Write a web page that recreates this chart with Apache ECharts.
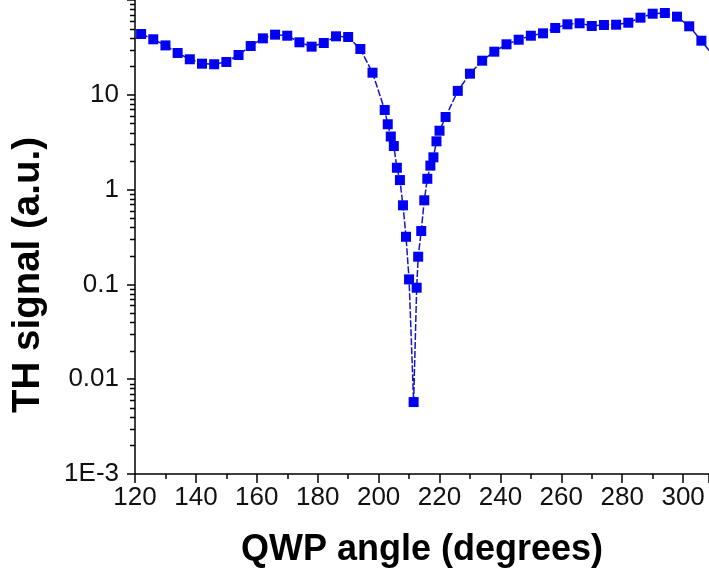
<!DOCTYPE html>
<html>
<head>
<meta charset="utf-8">
<script src="https://cdn.jsdelivr.net/npm/echarts@6/dist/echarts.min.js"></script>
<style>
html, body { margin: 0; padding: 0; background: #fff; }
#chart { width: 709px; height: 576px; }
</style>
</head>
<body>
<div id="chart"></div>
<script>
// QWP angle (degrees)
const angles = [
  122, 126, 130, 134, 138, 142, 146, 150, 154, 158, 162, 166, 170, 174, 178, 182, 186, 190, 194, 198,
  202, 203, 204, 205, 206, 207, 208, 209, 210, 211.5, 212.5, 213, 214, 215, 216, 217, 218, 219, 220,
  222, 226, 230, 234, 238, 242, 246, 250, 254, 258, 262, 266, 270, 274, 278, 282, 286, 290, 294, 298,
  302, 306, 310
]
// TH signal (a.u.)
const signal = [
  43.8, 38.5, 33.2, 27.6, 23.7, 21.3, 21.0, 22.2, 26.3, 32.7, 39.4, 43.1, 42.0, 35.8, 32.2, 35.2, 41.4, 40.7, 30.4, 17.1,
  6.92, 4.89, 3.63, 2.88, 1.70, 1.26, 0.683, 0.318, 0.113, 0.00574, 0.0923, 0.196, 0.366, 0.771, 1.30, 1.79, 2.19, 3.23, 4.18,
  5.83, 11.0, 16.7, 22.9, 28.5, 34.1, 38.1, 42.0, 44.5, 50.7, 55.4, 56.8, 53.2, 54.5, 54.9, 57.6, 65.1, 71.7, 72.9, 66.7,
  52.8, 37.2, 25.6
]

const yTickValues = [0.001, 0.01, 0.1, 1, 10]
const yTickText = ['1E-3', '0.01', '0.1', '1', '10']

const font = 'Liberation Sans, Arial, sans-serif'

let myChart = echarts.init(document.getElementById('chart'))

myChart.setOption({
  animation: false,
  grid: { left: 135, right: 0, top: 0, bottom: 102, containLabel: false },
  xAxis: {
    type: 'value',
    min: 120,
    max: 308.5,
    interval: 20,
    name: 'QWP angle (degrees)',
    nameLocation: 'middle',
    nameGap: 58,
    nameTextStyle: { fontFamily: font, fontSize: 36, fontWeight: 'bold', color: '#000' },
    axisLine: { lineStyle: { color: '#000', width: 1.5 } },
    axisTick: { length: 9, lineStyle: { color: '#000', width: 1.5 } },
    minorTick: { show: true, splitNumber: 2, length: 5, lineStyle: { color: '#000', width: 1.5 } },
    axisLabel: { showMaxLabel: false, margin: 11, fontFamily: font, fontSize: 26, color: '#111' },
    splitLine: { show: false }
  },
  yAxis: {
    type: 'log',
    logBase: 10,
    min: 0.001,
    max: 100,
    name: 'TH signal (a.u.)',
    nameLocation: 'middle',
    nameGap: 87,
    nameTextStyle: { fontFamily: font, fontSize: 38.5, fontWeight: 'bold', color: '#000', padding: [0, 76, 0, 0] },
    axisLine: { lineStyle: { color: '#000', width: 1.5 } },
    axisTick: { length: 8, lineStyle: { color: '#000', width: 1.5 } },
    axisLabel: {
      margin: 16,
      fontFamily: font,
      fontSize: 26,
      color: '#111',
      formatter: function (v) {
        let i = yTickValues.findIndex(t => Math.abs(Math.log10(t) - Math.log10(v)) < 1e-6)
        return i >= 0 ? yTickText[i] : ''
      }
    },
    splitLine: { show: false }
  },
  series: [
    {
      type: 'line',
      data: angles.map((a, i) => [a, signal[i]]),
      symbol: 'rect',
      symbolSize: 10,
      itemStyle: { color: '#0000f2' },
      lineStyle: { color: '#1414c8', width: 1.5, type: [7, 2] },
      clip: true
    }
  ]
})

// log-spaced minor ticks on the y axis (2..9 in each decade)
let minorTicks = []
for (let d = -3; d <= 1; d++) {
  for (let k = 2; k <= 9; k++) minorTicks.push(k * Math.pow(10, d))
}
let x0 = myChart.convertToPixel({ xAxisIndex: 0 }, 120)
myChart.setOption({
  graphic: minorTicks.map(v => {
    let y = Math.round(myChart.convertToPixel({ yAxisIndex: 0 }, v)) + 0.5
    return {
      type: 'line',
      silent: true,
      shape: { x1: x0 - 5, y1: y, x2: x0, y2: y },
      style: { stroke: '#000', lineWidth: 1.5 }
    }
  })
})
</script>
</body>
</html>
